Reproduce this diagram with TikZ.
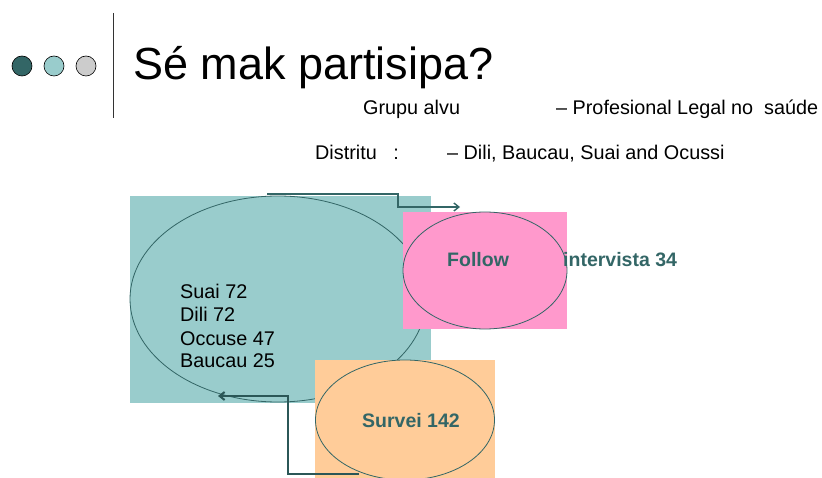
\documentclass[tikz,border=0pt]{standalone}
\usepackage{fontspec}
\setmainfont{Liberation Sans}
\usetikzlibrary{arrows.meta,shapes.geometric}

\definecolor{darkteal}{HTML}{336666}
\definecolor{lightteal}{HTML}{99CCCC}
\definecolor{bulletgray}{HTML}{CCCCCC}
\definecolor{pinkbg}{HTML}{FF99CC}
\definecolor{peachbg}{HTML}{FFCC99}

\begin{document}
\begin{tikzpicture}[x=1pt,y=-1pt,
  every node/.style={inner sep=0pt},
  body/.style={font=\fontsize{19.8}{22.5}\selectfont, anchor=base west},
  tag/.style={font=\fontsize{19.5}{22.5}\selectfont\bfseries, text=darkteal, anchor=base west},
  oval/.style={ellipse, draw=darkteal, line width=0.8pt},
  bullet/.style={circle, draw=black, line width=0.6pt, minimum size=20pt}]

\useasboundingbox (0,0) rectangle (822,478);

% bullets and rule
\node[bullet, fill=darkteal] (b1) at (22,66){};
\node[bullet, fill=lightteal] (b2) at (54,66){};
\node[bullet, fill=bulletgray] (b3) at (86,66){};
\draw[black!80, line width=0.8pt] (113,13) -- (113,118);

% title and subtitles
\node[font=\fontsize{45}{50}\selectfont, anchor=base west] (title) at (133,80){Sé mak partisipa?};
\node[body] (grupu) at (363,115){Grupu alvu};
\node[body] (grupuval) at (556,115){– Profesional Legal no\ \ saúde};
\node[body] (distritu) at (315,160){Distritu\ \ \ :};
\node[body] (distrituval) at (447,160){– Dili, Baucau, Suai and Ocussi};

% districts block
\node[fill=lightteal, minimum width=301pt, minimum height=207pt] (sitesbox) at (280.5,299.5){};
\node[oval, minimum width=296pt, minimum height=206pt] (sites) at (278,299){};
\node[body] (suai) at (180,299){Suai 72};
\node[body] (dili) at (180,322){Dili 72};
\node[body] (occuse) at (180,345){Occuse 47};
\node[body] (baucau) at (180,367){Baucau 25};

% follow block
\node[fill=pinkbg, minimum width=164pt, minimum height=117pt] (followbox) at (485,270.5){};
\node[oval, minimum width=164pt, minimum height=117pt] (follow) at (485,270.5){};
\node[tag] (followtxt) at (447,267){Follow};
\node[tag] (intervista) at (563,267){intervista 34};

% survey block
\node[fill=peachbg, minimum width=180pt, minimum height=118pt] (surveibox) at (405,419){};
\node[oval, minimum width=179pt, minimum height=120pt] (survei) at (405,420){};
\node[tag] (surveitxt) at (362,427){Survei 142};

% connectors
\coordinate (fstart) at (267,194);
\coordinate (fend) at (460,207);
\draw[darkteal, line width=1.4pt, -{Straight Barb[length=5pt,width=8pt]}] (fstart) -| (398,207) -- (fend);
\coordinate (sstart) at (359,474);
\coordinate (send) at (218,396);
\draw[darkteal!85!black, line width=2pt, -{Straight Barb[length=5pt,width=8pt]}] (sstart) -| (288,396) -- (send);

\end{tikzpicture}
\end{document}
